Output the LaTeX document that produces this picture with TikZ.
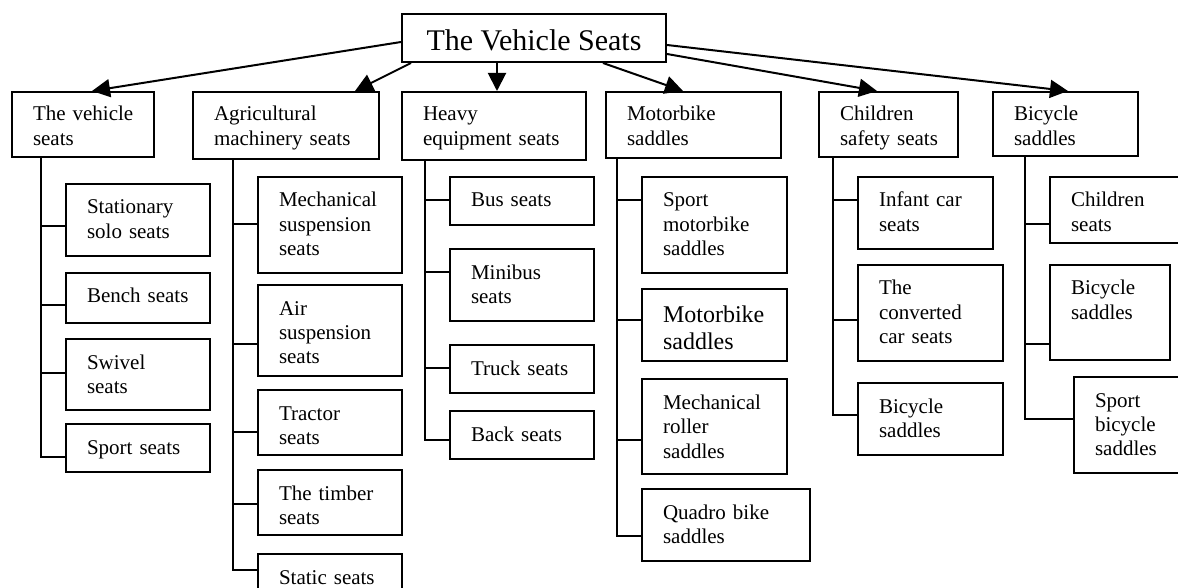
\documentclass[tikz,border=0pt]{standalone}
\usepackage{fontspec}
\setmainfont{Liberation Serif}
\usetikzlibrary{arrows.meta,calc}
\newcommand\mytab[1]{\begin{tabular}[t]{@{}l@{}}#1\end{tabular}}
\begin{document}
\begin{tikzpicture}[x=0.5pt,y=-0.5pt,
  bx/.style={draw, line width=1pt, inner xsep=10.5pt, inner ysep=0pt, anchor=north west, align=left},
  lone/.style={bx, font=\fontsize{10.5}{12.5}\selectfont, text height=14.5pt},
  ltwo/.style={bx, font=\fontsize{10.5}{12.25}\selectfont, text height=15pt},
  lbig/.style={bx, font=\fontsize{12}{13.5}\selectfont, text height=16.5pt},
  arr/.style={line width=1pt, -{Triangle[length=9pt,width=9pt]}},
  con/.style={line width=1pt}]
\path[use as bounding box, clip] (0,0) rectangle (1178,588);

% root
\node[draw, line width=1pt, font=\fontsize{15}{18}\selectfont, minimum width=132pt,
  text height=18.5pt, text depth=5.5pt, inner ysep=0pt, anchor=north west] (root) at (401,13) {The Vehicle Seats};

% level 1
\node[lone, text width=50pt, text depth=18pt] (v1) at (11,91) {\mytab{The vehicle\\seats}};
\node[lone, text width=72pt, text depth=19pt] (v2) at (192,91) {\mytab{Agricultural\\machinery seats}};
\node[lone, text width=71pt, text depth=19.5pt] (v3) at (401,91) {\mytab{Heavy\\equipment seats}};
\node[lone, text width=66.5pt, text depth=18.5pt] (v4) at (605,91) {\mytab{Motorbike\\saddles}};
\node[lone, text width=48.5pt, text depth=18pt] (v5) at (818,91) {\mytab{Children\\safety seats}};
\node[lone, text width=51.5pt, text depth=17.5pt] (v6) at (992,91) {\mytab{Bicycle\\saddles}};

% arrows
\draw[arr] ($(root.north west)+(0,29)$) -- ($(v1.north west)+(81,0)$);
\draw[arr] ($(root.south west)+(10,0)$) -- ($(v2.north west)+(163,0)$);
\draw[arr] ($(root.south west)+(96,0)$) -- ($(v3.north west)+(96,0)$);
\draw[arr] ($(root.south west)+(202,0)$) -- ($(v4.north west)+(78,0)$);
\draw[arr] ($(root.north east)+(0,41)$) -- ($(v5.north west)+(59,0)$);
\draw[arr] ($(root.north east)+(0,32)$) -- ($(v6.north west)+(76,0)$);

% column 1
\node[ltwo, text width=51pt, text depth=21pt] (c11) at (65,183) {\mytab{Stationary\\solo seats}};
\node[ltwo, text width=51pt, text depth=10pt] (c12) at (65,272) {\mytab{Bench seats}};
\node[ltwo, text width=51pt, text depth=20.5pt] (c13) at (65,338) {\mytab{Swivel\\seats}};
\node[ltwo, text width=51pt, text depth=9pt] (c14) at (65,423) {\mytab{Sport seats}};
\draw[con] ($(v1.south west)+(30,0)$) |- ($(c14.north west)+(0,34)$);
\draw[con] ($(c11.north west)+(0,43)$) -- ++(-24,0);
\draw[con] ($(c12.north west)+(0,33)$) -- ++(-24,0);
\draw[con] ($(c13.north west)+(0,35)$) -- ++(-24,0);

% column 2
\node[ltwo, text width=51pt, text depth=33pt] (c21) at (257,176) {\mytab{Mechanical\\suspension\\seats}};
\node[ltwo, text width=51pt, text depth=30.5pt] (c22) at (257,284) {\mytab{Air\\suspension\\seats}};
\node[ltwo, text width=51pt, text depth=17.5pt] (c23) at (257,389) {\mytab{Tractor\\seats}};
\node[ltwo, text width=51pt, text depth=17.5pt] (c24) at (257,469) {\mytab{The timber\\seats}};
\node[ltwo, text width=51pt, text depth=10pt] (c25) at (257,553) {\mytab{Static seats}};
\draw[con] ($(v2.south west)+(41,0)$) |- ($(c25.north west)+(0,17)$);
\draw[con] ($(c21.north west)+(0,48)$) -- ++(-24,0);
\draw[con] ($(c22.north west)+(0,60)$) -- ++(-24,0);
\draw[con] ($(c23.north west)+(0,43)$) -- ++(-24,0);
\draw[con] ($(c24.north west)+(0,35)$) -- ++(-24,0);

% column 3
\node[ltwo, text width=51pt, text depth=9pt] (c31) at (449,176) {\mytab{Bus seats}};
\node[ltwo, text width=51pt, text depth=21pt] (c32) at (449,248) {\mytab{Minibus\\seats}};
\node[ltwo, text width=51pt, text depth=9pt] (c33) at (449,344) {\mytab{Truck seats}};
\node[ltwo, text width=51pt, text depth=9pt] (c34) at (449,410) {\mytab{Back seats}};
\draw[con] ($(v3.south west)+(24,0)$) |- ($(c34.north west)+(0,30)$);
\draw[con] ($(c31.north west)+(0,24)$) -- ++(-24,0);
\draw[con] ($(c32.north west)+(0,24)$) -- ++(-24,0);
\draw[con] ($(c33.north west)+(0,24)$) -- ++(-24,0);

% column 4
\node[ltwo, text width=51.5pt, text depth=33pt] (c41) at (641,176) {\mytab{Sport\\motorbike\\saddles}};
\node[lbig, text width=51.5pt, text depth=19.5pt] (c42) at (641,288) {\mytab{Motorbike\\saddles}};
\node[ltwo, text width=51.5pt, text depth=32.5pt] (c43) at (641,378) {\mytab{Mechanical\\roller\\saddles}};
\node[ltwo, text width=63pt, text depth=21pt] (c44) at (641,488) {\mytab{Quadro bike\\saddles}};
\draw[con] ($(v4.south west)+(12,0)$) |- ($(c44.north west)+(0,48)$);
\draw[con] ($(c41.north west)+(0,24)$) -- ++(-24,0);
\draw[con] ($(c42.north west)+(0,32)$) -- ++(-24,0);
\draw[con] ($(c43.north west)+(0,62)$) -- ++(-24,0);

% column 5
\node[ltwo, text width=46.5pt, text depth=21pt] (c51) at (857,176) {\mytab{Infant car\\seats}};
\node[ltwo, text width=51.5pt, text depth=33pt] (c52) at (857,264) {\mytab{The\\converted\\car seats}};
\node[ltwo, text width=51.5pt, text depth=21pt] (c53) at (857,382) {\mytab{Bicycle\\saddles}};
\draw[con] ($(v5.south west)+(15,0)$) |- ($(c53.north west)+(0,33)$);
\draw[con] ($(c51.north west)+(0,24)$) -- ++(-24,0);
\draw[con] ($(c52.north west)+(0,56)$) -- ++(-24,0);

% column 6
\node[ltwo, text width=47pt, text depth=18pt] (c61) at (1049,176) {\mytab{Children\\seats}};
\node[ltwo, text width=39pt, text depth=32.5pt] (c62) at (1049,264) {\mytab{Bicycle\\saddles}};
\node[ltwo, text width=35pt, text depth=33pt] (c63) at (1073,376) {\mytab{Sport\\bicycle\\saddles}};
\draw[con] ($(v6.south west)+(33,0)$) |- ($(c63.north west)+(0,43)$);
\draw[con] ($(c61.north west)+(0,48)$) -- ++(-24,0);
\draw[con] ($(c62.north west)+(0,80)$) -- ++(-24,0);
\end{tikzpicture}
\end{document}
